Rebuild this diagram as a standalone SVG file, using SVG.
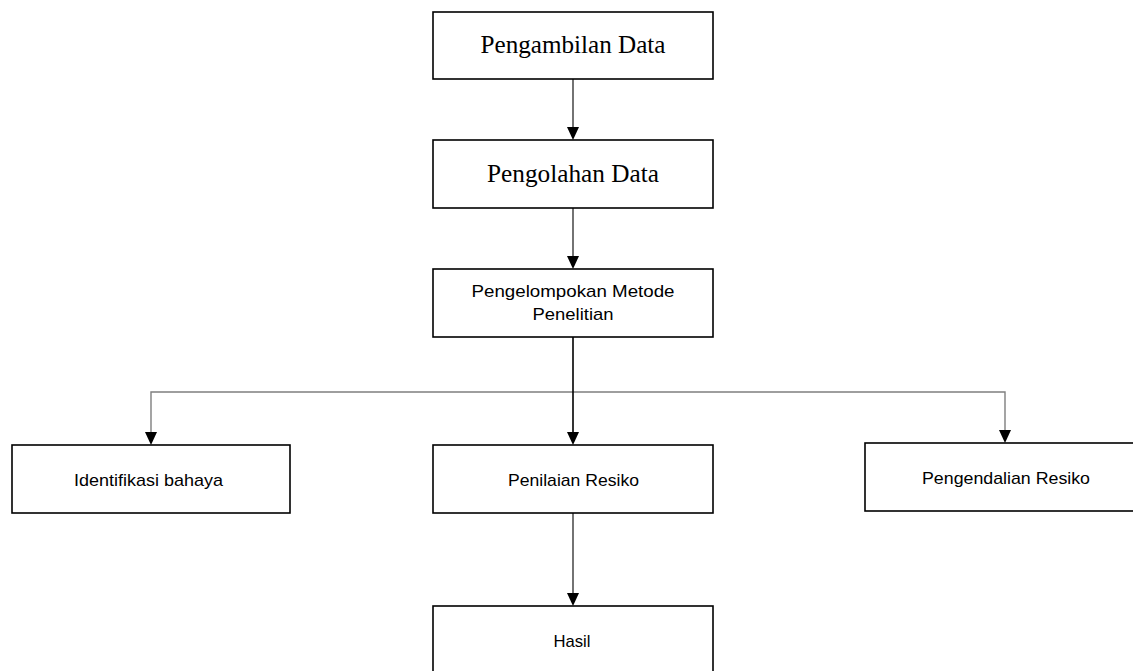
<svg xmlns="http://www.w3.org/2000/svg" width="1133" height="671" viewBox="0 0 1133 671">
<style>
.box{fill:#fff;stroke:#000;stroke-width:1.6}
.serif{font-family:"Liberation Serif","Times New Roman",serif;font-size:25px;fill:#000;text-anchor:middle}
.sans{font-family:"Liberation Sans",Arial,sans-serif;font-size:17px;fill:#000;text-anchor:middle}
.ln{fill:none;stroke:#000;stroke-width:1.1}
.gr{fill:none;stroke:#7f7f7f;stroke-width:1.4}
.ah{fill:#000}
</style>
<rect width="1133" height="671" fill="#fff"/>
<g id="connectors">
<line class="ln" x1="573" y1="79" x2="573" y2="128"/>
<polygon class="ah" points="567,127 579,127 573,140"/>
<line class="ln" x1="573" y1="208" x2="573" y2="256"/>
<polygon class="ah" points="567,256 579,256 573,269"/>
<polyline class="gr" points="151,433 151,392 1005,392 1005,432"/>
<line class="ln" x1="573" y1="337" x2="573" y2="434" style="stroke-width:1.6"/>
<polygon class="ah" points="567,432 579,432 573,445"/>
<polygon class="ah" points="145,432 157,432 151,445"/>
<polygon class="ah" points="999,430 1011,430 1005,443"/>
<line class="ln" x1="573" y1="513" x2="573" y2="594"/>
<polygon class="ah" points="567,593 579,593 573,606"/>
</g>
<g id="n1">
<rect class="box" x="433" y="12" width="280" height="67"/>
<text class="serif" x="573" y="53" textLength="185" lengthAdjust="spacingAndGlyphs">Pengambilan Data</text>
</g>
<g id="n2">
<rect class="box" x="433" y="140" width="280" height="68"/>
<text class="serif" x="573" y="182" textLength="172" lengthAdjust="spacingAndGlyphs">Pengolahan Data</text>
</g>
<g id="n3">
<rect class="box" x="433" y="269" width="280" height="68"/>
<text class="sans" x="573" y="297" textLength="203" lengthAdjust="spacingAndGlyphs">Pengelompokan Metode</text>
<text class="sans" x="573" y="320" textLength="81" lengthAdjust="spacingAndGlyphs">Penelitian</text>
</g>
<g id="n4">
<rect class="box" x="12" y="445" width="278" height="68"/>
<text class="sans" x="148.5" y="486" textLength="149" lengthAdjust="spacingAndGlyphs">Identifikasi bahaya</text>
</g>
<g id="n5">
<rect class="box" x="433" y="445" width="280" height="68"/>
<text class="sans" x="573.5" y="486" textLength="131" lengthAdjust="spacingAndGlyphs">Penilaian Resiko</text>
</g>
<g id="n6">
<rect class="box" x="865" y="443" width="290" height="68"/>
<text class="sans" x="1006" y="484" textLength="168" lengthAdjust="spacingAndGlyphs">Pengendalian Resiko</text>
</g>
<g id="n7">
<rect class="box" x="433" y="606" width="280" height="80"/>
<text class="sans" x="572" y="647" textLength="37" lengthAdjust="spacingAndGlyphs">Hasil</text>
</g>
</svg>
